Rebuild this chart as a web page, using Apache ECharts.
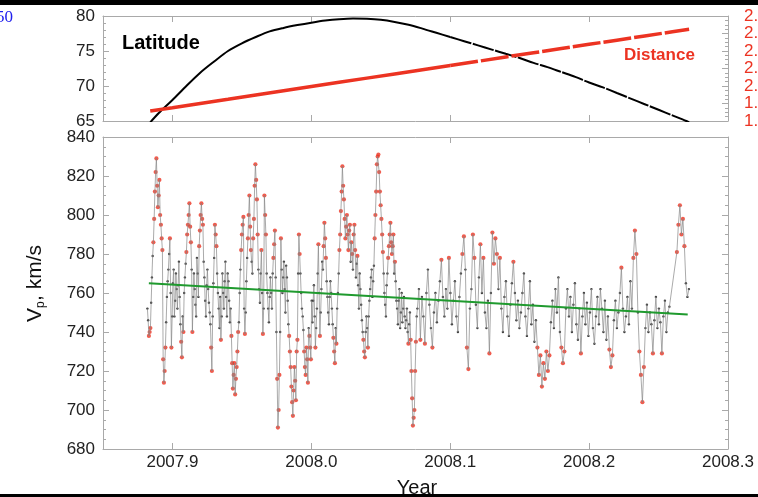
<!DOCTYPE html>
<html>
<head>
<meta charset="utf-8">
<title>Vp, latitude and distance</title>
<script src="https://cdn.jsdelivr.net/npm/echarts@6.0.0/dist/echarts.min.js"></script>
<style>
  html, body { margin: 0; padding: 0; background: #fff; }
  #chart { width: 758px; height: 497px; }
</style>
</head>
<body>
<div id="chart"></div>
<script>
// x axis ticks (years)
const yearTicks = [2007.9, 2008.0, 2008.1, 2008.2, 2008.3]

// top panel: latitude (left axis) and distance (right axis)
const latYears = [2007.884, 2007.89, 2007.90, 2007.91, 2007.92, 2007.93, 2007.94, 2007.95, 2007.96, 2007.97,
  2007.98, 2007.99, 2008.00, 2008.01, 2008.02, 2008.03, 2008.04, 2008.05, 2008.06, 2008.07,
  2008.08, 2008.09, 2008.10, 2008.11, 2008.12, 2008.13, 2008.14, 2008.15, 2008.16, 2008.17,
  2008.18, 2008.19, 2008.20, 2008.21, 2008.22, 2008.23, 2008.24, 2008.25, 2008.26, 2008.27, 2008.272]
const latValues = [64.8, 66.1, 68.0, 70.0, 71.9, 73.5, 75.0, 76.1, 77.0, 77.8,
  78.3, 78.7, 79.05, 79.35, 79.55, 79.65, 79.6, 79.45, 79.15, 78.75,
  78.2, 77.6, 77.0, 76.4, 75.8, 75.2, 74.6, 74.0, 73.3, 72.7,
  72.0, 71.3, 70.5, 69.8, 69.0, 68.2, 67.4, 66.6, 65.8, 65.0, 64.8]

const distYears = [2007.884, 2007.90, 2007.92, 2007.94, 2007.96, 2007.98, 2008.00, 2008.02, 2008.04, 2008.06,
  2008.08, 2008.10, 2008.12, 2008.14, 2008.16, 2008.18, 2008.20, 2008.22, 2008.24, 2008.26, 2008.272]
const distValues = [1.857, 1.876, 1.900, 1.924, 1.949, 1.973, 1.997, 2.021, 2.045, 2.069,
  2.093, 2.117, 2.141, 2.166, 2.190, 2.214, 2.238, 2.262, 2.286, 2.310, 2.324]

// bottom panel: Vp (km/s), one value every vpStep years from vpStart, null = no data
const vpStart = 2007.88197
const vpStep = 0.00108
const vpValues = [
  752, 738, 742, 768, 786, 812, 829, 804, 818, 795,
  782, 714, 732, 758, 772, 788, 732, 765, 748, 770,
  752, 776, 744, 727, 740, 768, 781, 795, 806, 786,
  740, 770, 754, 778, 758, 792, 806, 795, 768, 748,
  772, 755, 744, 720, 765, 795, 784, 760, 742, 736,
  770, 752, 776, 748, 766, 745, 738, 711, 724, 716,
  730, 745, 772, 790, 799, 739, 766, 788, 810, 782,
  770, 798, 826, 808, 772, 755, 782, 739, 810, 790,
  760, 745, 768, 752, 778, 792, 740, 691, 718, 788,
  760, 776, 750, 768, 744, 730, 712, 697, 722, 705,
  736, 790, 770, 752, 741, 722, 732, 714, 738, 726,
  745, 764, 732, 752, 785, 738, 762, 772, 796, 778,
  758, 744, 766, 752, 737, 724, 734, 760, 782, 802,
  825, 808, 788, 800, 782, 795, 786, 772, 795, 768,
  779, 752, 762, 746, 736, 727, 748, 732, 756, 768,
  758, 774, 800, 826, 831, 812, 798, 781, 760, 748,
  770, 784, 796, 780, 790, 776, 756, 744, 762, 750,
  745, 758, 742, 752, 734, 750, 720, 692, 700, 735,
  752, 762, 736, 758, 748, 734, 760, 772, 754, 742,
  732, 750, 760, 745, 756, 766, 777, 758, 748, 762,
  752, 778, 760, 744, 756, 766, 748, 740, 758, 770,
  780, 789, 772, 732, 721, 752, 762, 790, 778, 754,
  742, 768, 785, 760, 778, 750, 742, 756, 729, 760,
  791, 775, 788, 780, 762, 778, 752, 740, 758, 766,
  748, 738, 754, 765, 776, 760, 746, 756, 742, 750,
  760, 770, 748, 738, 752, 766, 744, 754, 735, 746,
  732, 718, 728, 712, 724, 716, 730, 720, 728, 745,
  756, 742, 762, 750, 768, 740, 732, 724, 730, 752,
  762, 748, 758, 740, 754, 765, 744, 736, 752, 729,
  748, 760, 744, 755, 738, 750, 762, 742, 734, 748,
  758, 744, 762, 752, 740, 756, 736, 748, 731, 722,
  728, 746, 756, 742, 750, 760, 773, 752, 740, 748,
  758, 744, 766, 752, 778, 792, 780, 750, 730, 718,
  704, 722, 742, 754, 740, 750, 744, 729, 746, 758,
  742, 752, 745, 729, 748, 756, 740, 750, 753, null,
  null, null, null, 781, 795, 805, 790, 798, 784, 765,
  758, 762
]
// extra samples in the dense early part, halfway between the ones above
const vpValuesMid = [
  746, 740, 755, 779, 798, 822, 815, 810, 800, 788,
  726, 720, 745, 766, 780, 760, 748, 772, 756, 762,
  764, 758, 735, 748, 760, 775, 790, 800, 794, 772,
  758, 762, 748, 770, 784, 800, 798, 776, 756, 764,
  762, 750, 732, 748, 778, 790, 770, 752, 758, 748,
  760, 766, 758, 770, 756, 752, 724, 718, 708, 722,
  740, 760, 782, 795, 752, 750, 778, 800, 794, 776,
  788, 815, 818, 790, 762, 770, 760, 752, 800, 770,
  752, 758, 760, 770, 785, 768, 716, 700, 740, 772,
  768, 762, 774, 756, 738, 722, 704, 710, 715, 730,
  770, 780, 760, 748, 730, 718, 726, 742, 732, 756,
  756, 748, 742, 770, 760, 750, 776, 784, 788, 766,
  750, 758, 760, 744, 730, 742, 752, 770, 790, 812,
  815, 798, 794, 790, 792, 776, 780, 790, 782, 775,
  764, 770, 754, 740, 730, 740, 742, 748, 762, 772,
  766, 788, 812, 830, 822, 805, 790, 770, 754, 764,
  778, 790, 786, 784, 770, 766, 752, 756, 742, 760,
  752, 748, 746, 740, 744, 736, 706, 696, 720, 748
]

// green fit line
const trendYears = [2007.883, 2008.271]
const trendValues = [765, 749]

// points further than flagHalfWidth from this line are drawn red
const flagCenter = [762, 749]
const flagHalfWidth = 19

const red = '#ec3322'
const frameGray = '#a9a9a9'
const sans = '"Liberation Sans", Arial, sans-serif'
const tickFont = { fontFamily: sans, fontSize: 17, color: '#222' }

const vpData = vpValues.map((v, i) => [vpStart + i * vpStep, v])
  .concat(vpValuesMid.map((v, i) => [vpStart + (i + 0.5) * vpStep, v]))
  .sort((a, b) => a[0] - b[0])
const flagLine = (t) => flagCenter[0] + (flagCenter[1] - flagCenter[0]) * (t - trendYears[0]) / (trendYears[1] - trendYears[0])
const blackPts = vpData.filter(d => d[1] != null && Math.abs(d[1] - flagLine(d[0])) <= flagHalfWidth)
const redPts = vpData.filter(d => d[1] != null && Math.abs(d[1] - flagLine(d[0])) > flagHalfWidth)

const latData = latYears.map((t, i) => [t, latValues[i]])
const distData = distYears.map((t, i) => [t, distValues[i]])
const latSplit = latYears.indexOf(2008.10)
const distSplit = distYears.indexOf(2008.10)

function yearAxis(gridIndex, position, withLabels) {
  return {
    type: 'value', gridIndex: gridIndex, position: position,
    min: 2007.85, max: 2008.3,
    axisLine: { show: true, onZero: false, lineStyle: { color: frameGray } },
    axisTick: { show: true, inside: true, length: 6, customValues: yearTicks, lineStyle: { color: frameGray } },
    axisLabel: { show: withLabels, customValues: yearTicks, margin: 5, formatter: v => v.toFixed(1), ...tickFont },
    splitLine: { show: false }
  }
}

function valueAxis(gridIndex, position, opts) {
  return {
    type: 'value', gridIndex: gridIndex, position: position,
    min: opts.min, max: opts.max, interval: opts.interval,
    axisLine: { show: true, onZero: false, lineStyle: { color: frameGray } },
    axisTick: { show: true, inside: true, length: 6, lineStyle: { color: frameGray } },
    minorTick: { show: true, splitNumber: opts.minor, length: 3, lineStyle: { color: frameGray } },
    axisLabel: Object.assign({ show: opts.labels, margin: opts.margin || 8, padding: [0, 0, 6, 0],
      formatter: opts.fmt }, tickFont, opts.labelColor ? { color: opts.labelColor } : {}),
    splitLine: { show: false }
  }
}

const chart = echarts.init(document.getElementById('chart'))
chart.setOption({
  animation: false,
  backgroundColor: '#fff',
  grid: [
    { left: 103, top: 16, width: 625, height: 105, containLabel: false, outerBoundsMode: 'none' },
    { left: 103, top: 137, width: 625, height: 312, containLabel: false, outerBoundsMode: 'none' }
  ],
  xAxis: [
    yearAxis(0, 'bottom', false),
    yearAxis(0, 'top', false),
    yearAxis(1, 'bottom', true),
    yearAxis(1, 'top', false)
  ],
  yAxis: [
    valueAxis(0, 'left', { min: 65, max: 80, interval: 5, minor: 5, labels: true }),
    valueAxis(0, 'right', { min: 1.8, max: 2.4, interval: 0.1, minor: 4, labels: true, margin: 16,
      labelColor: red, fmt: v => v.toFixed(1) }),
    valueAxis(1, 'left', { min: 680, max: 840, interval: 20, minor: 4, labels: true }),
    valueAxis(1, 'right', { min: 680, max: 840, interval: 20, minor: 4, labels: false })
  ],
  series: [
    { type: 'line', xAxisIndex: 0, yAxisIndex: 0, data: latData.slice(0, latSplit + 1), smooth: 0.3,
      showSymbol: false, lineStyle: { color: '#000', width: 2 } },
    { type: 'line', xAxisIndex: 0, yAxisIndex: 0, data: latData.slice(latSplit), smooth: 0.3,
      showSymbol: false, lineStyle: { color: '#000', width: 2, type: [22, 1.5] } },
    { type: 'line', xAxisIndex: 0, yAxisIndex: 1, data: distData.slice(0, distSplit + 1),
      showSymbol: false, lineStyle: { color: red, width: 3.5 } },
    { type: 'line', xAxisIndex: 0, yAxisIndex: 1, data: distData.slice(distSplit),
      showSymbol: false, lineStyle: { color: red, width: 3.5, type: [28, 3] } },

    { type: 'line', xAxisIndex: 2, yAxisIndex: 2, data: vpData, connectNulls: true,
      showSymbol: false, lineStyle: { color: '#858585', width: 0.7 } },
    { type: 'scatter', xAxisIndex: 2, yAxisIndex: 2, data: blackPts, symbolSize: 2.4,
      itemStyle: { color: '#111' } },
    { type: 'scatter', xAxisIndex: 2, yAxisIndex: 2, data: redPts, symbolSize: 4.2,
      itemStyle: { color: red } },
    { type: 'line', xAxisIndex: 2, yAxisIndex: 2, data: trendYears.map((t, i) => [t, trendValues[i]]),
      showSymbol: false, lineStyle: { color: '#1f9a2e', width: 2 } }
  ],
  graphic: [
    { type: 'rect', shape: { x: 0, y: 0, width: 758, height: 5 }, style: { fill: '#000' } },
    { type: 'rect', shape: { x: 0, y: 494, width: 758, height: 3 }, style: { fill: '#000' } },
    { type: 'text', x: -4, y: 9, style: { text: '50', fill: '#2020ee', verticalAlign: 'top',
      font: '17px "Liberation Serif", serif' } },
    { type: 'text', x: 122, y: 43, style: { text: 'Latitude', fill: '#000', verticalAlign: 'middle',
      font: 'bold 20px ' + sans } },
    { type: 'text', x: 624, y: 55, style: { text: 'Distance', fill: red, verticalAlign: 'middle',
      font: 'bold 17px ' + sans } },
    { type: 'text', x: 417, y: 478, style: { text: 'Year', fill: '#111', align: 'center', verticalAlign: 'top',
      font: '20px ' + sans } },
    {
      // y axis title, read bottom to top
      type: 'group', x: 25, y: 322, rotation: Math.PI / 2,
      children: [
        { type: 'text', x: 0, y: 0, style: { text: 'V', fill: '#111', verticalAlign: 'top',
          font: '21px ' + sans } },
        { type: 'text', x: 14, y: 10, style: { text: 'p', fill: '#111', verticalAlign: 'top',
          font: '12px ' + sans } },
        { type: 'text', x: 21, y: 0, style: { text: ', km/s', fill: '#111', verticalAlign: 'top',
          font: '21px ' + sans } }
      ]
    }
  ]
})
</script>
</body>
</html>
